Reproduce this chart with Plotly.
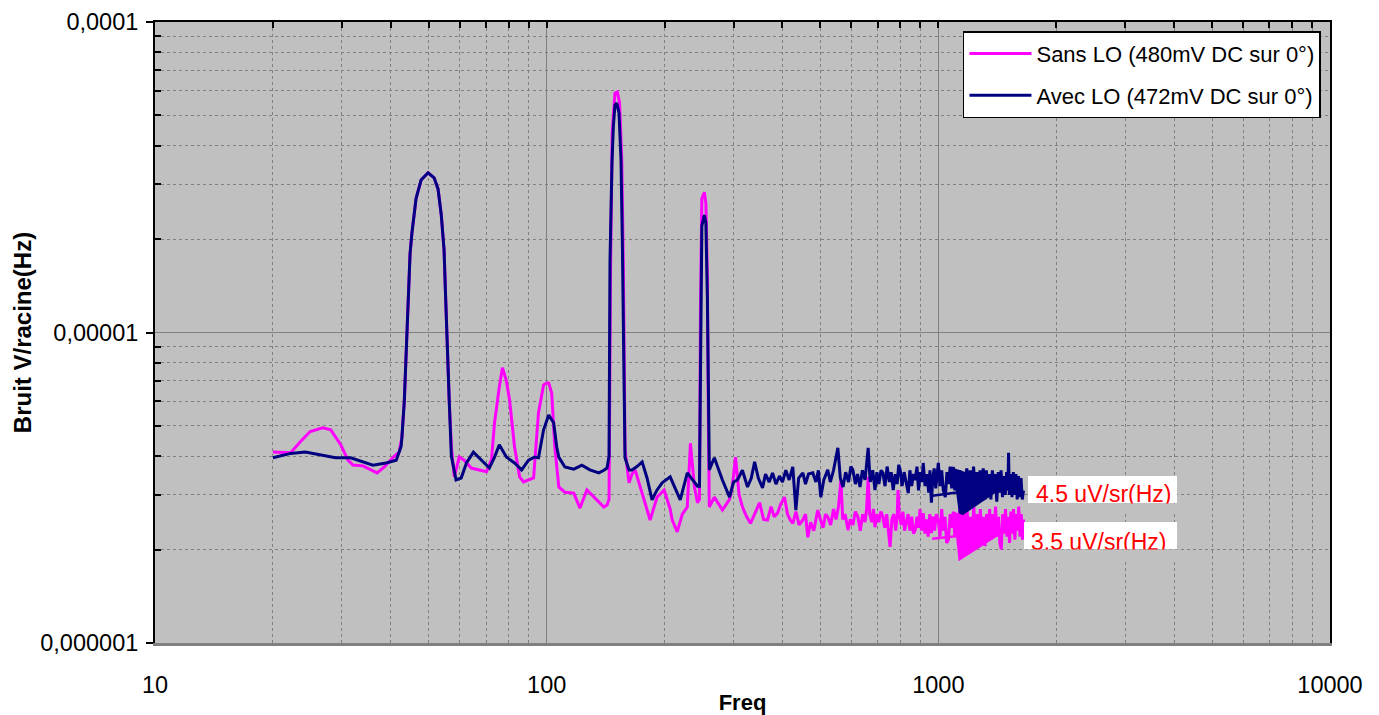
import plotly.graph_objects as go

# ---------------- data ----------------
freq_sans = [
    20.0, 22.2, 23.5, 24.9, 26.8, 28.1, 29.8, 31.1, 32.0, 34.0, 35.6, 36.9, 38.5, 40.6,
    42.0, 42.7, 43.3, 43.8, 44.3, 44.8, 45.3, 45.9, 46.4, 47.8, 49.8, 51.6, 52.8, 53.8,
    54.7, 55.1, 55.7, 56.4, 57.1, 58.1, 59.8, 61.6, 64.2, 67.0, 70.2, 72.3, 73.6, 75.7,
    77.1, 78.9, 80.4, 82.8, 85.3, 87.3, 89.9, 92.6, 95.3, 98.2, 100.0, 101.2, 103.0,
    104.9, 107.4, 111.3, 117.3, 121.6, 126.7, 132.8, 140.0, 142.6, 144.3, 145.5, 147.0,
    149.4, 151.5, 153.5, 155.5, 157.0, 158.0, 158.5, 162.3, 165.2, 168.2, 175.3, 180.4,
    183.7, 191.4, 199.5, 206.7, 209.2, 215.4, 222.0, 228.6, 232.8, 238.4, 242.7, 245.5,
    247.0, 249.0, 252.7, 255.0, 257.2, 259.0, 260.2, 268.0, 281.0,
    293, 298, 303.5, 310, 316.2, 324, 331.5, 340, 349.7, 358, 366.4, 374, 381, 388.5,
    396, 404.7, 412, 418, 425, 433, 441, 450.9, 458, 464.3, 472, 481, 492, 500, 508,
    515, 522, 531, 540, 548, 556, 564, 570, 578, 588, 596, 605, 614, 623, 632, 641,
    650, 656, 662, 668, 676, 683, 689, 697, 705, 713, 722, 730, 738, 746, 753, 761,
    770, 778, 785, 789, 795, 804, 812, 820, 828, 837, 846, 855, 864, 873, 882, 890,
    898, 906, 915, 924, 933, 942, 951, 960, 969, 978, 988, 1000, 1010, 1020, 1030,
    1040, 1050, 1061, 1072, 1082, 1092, 1102, 1114, 1125, 1136, 1148, 1160, 1172,
    1184, 1196, 1208, 1220, 1232, 1244, 1256, 1268, 1280, 1292, 1304, 1316, 1328,
    1340, 1352, 1364, 1376, 1388, 1400, 1412, 1424, 1436, 1448, 1460, 1472, 1484,
    1496, 1508, 1520, 1532, 1544, 1556, 1568, 1580, 1592, 1604, 1616, 1628, 1640, 1650,
]
noise_sans = [
    4.12e-6, 4.10e-6, 4.45e-6, 4.80e-6, 4.93e-6, 4.86e-6, 4.35e-6, 3.88e-6, 3.74e-6, 3.72e-6,
    3.61e-6, 3.53e-6, 3.69e-6, 3.97e-6,
    4.12e-6, 4.6e-6, 6.0e-6, 9.0e-6, 1.3e-5, 1.8e-5, 2.1e-5, 2.4e-5, 2.7e-5, 3.1e-5, 3.27e-5,
    3.15e-5, 2.9e-5, 2.4e-5,
    1.85e-5, 1.4e-5, 9.0e-6, 6.0e-6, 4.3e-6, 3.43e-6, 3.97e-6, 3.88e-6, 3.66e-6, 3.61e-6,
    3.56e-6, 3.9e-6, 5.12e-6, 6.68e-6,
    7.7e-6, 7.0e-6, 6.06e-6, 4.28e-6, 3.43e-6, 3.30e-6, 3.35e-6, 3.40e-6, 5.51e-6, 6.78e-6,
    6.88e-6, 6.88e-6, 6.38e-6,
    4.28e-6, 3.18e-6, 3.06e-6, 3.04e-6, 2.72e-6, 3.11e-6, 2.93e-6, 2.74e-6, 2.78e-6, 2.9e-6,
    1.5e-5, 4.4e-5,
    5.9e-5, 5.95e-5, 5.5e-5, 3.6e-5, 1.6e-5, 7.0e-6, 4.19e-6, 3.28e-6, 3.5e-6, 3.61e-6,
    3.04e-6, 2.7e-6,
    2.49e-6, 2.95e-6, 3.11e-6, 2.7e-6, 2.49e-6, 2.28e-6, 2.6e-6, 2.74e-6, 4.4e-6, 3.18e-6,
    2.83e-6, 2.9e-6,
    1.2e-5, 2.7e-5, 2.83e-5, 2.6e-5, 1.5e-5, 4.5e-6, 2.74e-6, 2.95e-6, 2.68e-6,
    2.9e-6, 3.2e-6, 3.97e-6, 3.0e-6, 2.74e-6, 2.55e-6, 2.43e-6, 2.6e-6, 2.83e-6, 2.5e-6,
    2.49e-6, 2.75e-6, 2.55e-6, 2.62e-6,
    2.8e-6, 2.95e-6, 2.6e-6, 2.5e-6, 2.43e-6, 2.65e-6, 2.4e-6, 2.49e-6, 2.6e-6, 2.19e-6,
    2.45e-6, 2.3e-6, 2.68e-6, 2.5e-6, 2.35e-6,
    2.6e-6, 2.55e-6, 2.4e-6, 2.7e-6, 2.5e-6, 2.75e-6, 3.35e-6, 2.5e-6, 2.6e-6, 2.31e-6,
    2.5e-6, 2.4e-6, 2.65e-6, 2.55e-6, 2.3e-6, 2.6e-6,
    2.45e-6, 2.7e-6, 3.43e-6, 2.6e-6, 2.45e-6, 2.7e-6, 2.36e-6, 2.6e-6, 2.45e-6, 2.65e-6,
    2.55e-6, 2.35e-6, 2.6e-6, 2.3e-6, 2.04e-6, 2.5e-6,
    2.6e-6, 2.3e-6, 2.55e-6, 3.11e-6, 2.6e-6, 2.4e-6, 2.65e-6, 2.3e-6, 2.43e-6, 2.6e-6,
    2.3e-6, 2.55e-6, 2.25e-6, 2.31e-6, 2.55e-6, 2.35e-6,
    2.7e-6, 2.3e-6, 2.62e-6, 2.25e-6, 2.5e-6, 2.2e-6, 2.6e-6, 2.26e-6, 2.55e-6, 2.3e-6,
    2.6e-6, 2.49e-6, 2.2e-6, 2.7e-6, 2.3e-6,
    2.55e-6, 2.1e-6, 2.15e-6, 2.6e-6, 2.35e-6, 2.65e-6, 2.2e-6, 2.5e-6, 2.43e-6, 2.75e-6,
    2.2e-6, 2.6e-6, 2.25e-6,
    2.7e-6, 2.15e-6, 2.55e-6, 2.3e-6, 2.75e-6, 2.1e-6, 2.6e-6, 2.25e-6, 2.7e-6, 2.2e-6,
    2.55e-6, 2.05e-6, 2.6e-6,
    2.3e-6, 2.7e-6, 2.15e-6, 2.6e-6, 2.25e-6, 2.75e-6, 2.2e-6, 2.55e-6, 2.1e-6, 2.0e-6,
    2.6e-6, 2.25e-6, 2.7e-6,
    2.2e-6, 2.55e-6, 2.1e-6, 2.65e-6, 2.25e-6, 2.7e-6, 2.15e-6, 2.6e-6, 2.3e-6, 2.75e-6,
    2.2e-6, 2.6e-6, 2.15e-6, 2.5e-6,
]

freq_avec = [
    20.0, 22.2, 24.2, 26.5, 28.9, 31.6, 34.0, 36.0, 38.9, 41.3, 42.5, 42.7, 43.3, 43.8,
    44.3, 44.8, 45.3, 45.9, 46.4, 47.8, 49.8, 51.6, 52.8, 53.8, 54.7, 55.1, 55.7, 56.4,
    57.1, 58.7, 60.5, 62.4, 65.0, 68.1, 71.4, 73.6, 75.7, 78.9, 82.8, 86.3, 89.9, 93.1,
    95.3, 98.2, 101.2, 104.2, 106.1, 107.4, 111.3, 117.3, 123.0, 128.9, 135.9, 140.0,
    142.6, 144.3, 145.1, 146.8, 148.0, 149.4, 151.0, 153.0, 154.8, 156.0, 157.5, 158.5,
    162.3, 165.2, 170.0, 175.3, 180.4, 185.8, 191.0, 197.2, 206.7, 212.0, 219.3, 228.6,
    238.4, 242.7, 245.5, 247.0, 249.0, 252.7, 255.0, 257.2, 259.0, 260.2, 268.0, 281.0,
    293.0, 300, 307, 316, 325.7, 333, 339.6, 347, 355.8, 362, 370, 377.3, 385, 393, 400,
    408, 416, 425, 432.7, 440, 450.9, 458, 466, 478, 487, 494, 501, 510, 522, 530, 540,
    554, 562, 571, 580, 590, 598, 605, 614, 622, 631, 640, 650, 662, 670, 680, 689,
    697, 705, 714, 722, 731, 740, 750, 758, 767, 776, 785, 792, 799, 808, 818, 827,
    838, 846, 855, 864, 873, 882, 890, 900, 908, 915, 925, 935, 945, 952, 960, 968,
    976, 985, 993, 1000, 1010, 1020, 1030, 1042, 1052, 1062, 1072, 1082, 1092, 1102,
    1112, 1122, 1134, 1146, 1158, 1170, 1182, 1194, 1206, 1218, 1230, 1242, 1254,
    1266, 1278, 1290, 1302, 1314, 1326, 1338, 1350, 1362, 1374, 1386, 1398, 1410,
    1422, 1434, 1446, 1458, 1470, 1482, 1494, 1505, 1511, 1518, 1530, 1542, 1554,
    1566, 1578, 1590, 1602, 1614, 1626, 1638, 1650,
]
noise_avec = [
    3.95e-6, 4.08e-6, 4.12e-6, 4.03e-6, 3.95e-6, 3.95e-6, 3.83e-6, 3.74e-6, 3.80e-6, 3.88e-6,
    4.3e-6, 4.6e-6, 6.0e-6, 9.0e-6,
    1.3e-5, 1.8e-5, 2.1e-5, 2.4e-5, 2.7e-5, 3.1e-5, 3.27e-5, 3.15e-5, 2.9e-5, 2.4e-5,
    1.85e-5, 1.4e-5, 9.0e-6, 6.0e-6,
    4.0e-6, 3.35e-6, 3.40e-6, 3.80e-6, 4.12e-6, 3.88e-6, 3.66e-6, 3.97e-6, 4.35e-6, 3.97e-6,
    3.80e-6, 3.61e-6, 3.88e-6, 3.97e-6,
    3.95e-6, 4.86e-6, 5.42e-6, 5.12e-6, 4.28e-6, 3.97e-6, 3.69e-6, 3.63e-6, 3.74e-6, 3.61e-6,
    3.53e-6, 3.6e-6,
    3.66e-6, 4.0e-6, 1.7e-5, 3.5e-5, 4.6e-5, 5.4e-5, 5.48e-5, 5.1e-5, 3.6e-5, 2.0e-5,
    8.0e-6, 3.95e-6,
    3.61e-6, 3.61e-6, 3.7e-6, 3.83e-6, 3.4e-6, 2.89e-6, 3.1e-6, 3.28e-6, 3.43e-6, 3.2e-6,
    2.89e-6, 3.53e-6,
    3.30e-6, 3.2e-6, 3.2e-6, 1.0e-5, 2.2e-5, 2.39e-5, 2.25e-5, 1.3e-5, 5.0e-6, 3.61e-6,
    3.95e-6, 3.35e-6,
    2.95e-6, 3.3e-6, 3.35e-6, 3.6e-6, 3.18e-6, 3.4e-6, 3.83e-6, 3.4e-6, 3.16e-6, 3.5e-6,
    3.3e-6, 3.53e-6, 3.25e-6, 3.45e-6, 3.30e-6,
    3.6e-6, 3.35e-6, 3.69e-6, 2.68e-6, 3.4e-6, 3.53e-6, 3.25e-6, 3.5e-6, 3.53e-6, 3.3e-6,
    3.6e-6, 2.95e-6, 3.35e-6, 3.61e-6, 3.3e-6, 3.6e-6,
    4.25e-6, 3.4e-6, 3.18e-6, 3.55e-6, 3.3e-6, 3.7e-6, 3.61e-6, 3.25e-6, 3.5e-6, 3.18e-6,
    3.6e-6, 3.35e-6, 4.25e-6, 3.3e-6, 3.6e-6, 3.11e-6,
    3.55e-6, 3.25e-6, 3.6e-6, 3.53e-6, 3.2e-6, 3.7e-6, 3.3e-6, 3.55e-6, 3.11e-6, 3.5e-6,
    3.25e-6, 3.75e-6, 3.61e-6, 3.2e-6, 3.55e-6, 3.3e-6,
    3.04e-6, 3.6e-6, 3.2e-6, 3.5e-6, 3.35e-6, 3.7e-6, 3.1e-6, 3.55e-6, 3.3e-6, 3.80e-6,
    3.2e-6, 3.5e-6, 3.05e-6, 3.6e-6, 2.83e-6, 3.4e-6,
    3.65e-6, 3.15e-6, 3.55e-6, 3.80e-6, 3.2e-6, 3.6e-6, 3.1e-6, 2.95e-6, 3.55e-6, 3.25e-6,
    3.7e-6, 3.15e-6, 3.69e-6, 3.1e-6,
    3.55e-6, 3.2e-6, 3.6e-6, 2.95e-6, 3.45e-6, 3.1e-6, 3.65e-6, 3.16e-6, 3.6e-6, 3.0e-6,
    3.7e-6, 3.1e-6, 3.55e-6,
    2.95e-6, 3.6e-6, 3.05e-6, 3.65e-6, 2.9e-6, 3.6e-6, 3.05e-6, 3.5e-6, 2.9e-6, 3.6e-6,
    3.1e-6, 3.5e-6, 2.85e-6,
    3.55e-6, 3.05e-6, 3.6e-6, 2.95e-6, 3.45e-6, 3.0e-6, 3.55e-6, 3.1e-6, 4.1e-6, 3.0e-6,
    3.5e-6, 2.95e-6, 3.55e-6,
    3.0e-6, 3.5e-6, 2.9e-6, 3.45e-6, 2.95e-6, 3.4e-6, 2.9e-6, 3.1e-6,
]

name_sans = "Sans LO (480mV DC sur 0°)"
name_avec = "Avec LO (472mV DC sur 0°)"
label_avec = "4.5 uV/sr(Hz)"
label_sans = "3.5 uV/sr(Hz)"

x_ticks = [10, 100, 1000, 10000]
x_ticktext = ["10", "100", "1000", "10000"]
y_ticks = [1e-6, 1e-5, 1e-4]
y_ticktext = ["0,000001", "0,00001", "0,0001"]

# ---------------- style ----------------
FONT = "Liberation Sans, Arial, sans-serif"
GRID = "#808080"
x_minor = [m * 10 ** e for e in (1, 2, 3) for m in range(2, 10)]
y_minor = [m * 10.0 ** e for e in (-6, -5) for m in range(2, 10)]

fig = go.Figure()
fig.add_trace(go.Scatter(x=freq_sans, y=noise_sans, mode="lines", name=name_sans,
                         line=dict(color="#FF00FF", width=3), legendgroup="a"))
fig.add_trace(go.Scatter(x=freq_avec, y=noise_avec, mode="lines", name=name_avec,
                         line=dict(color="#000080", width=3), legendgroup="b"))
# helper trace for the top (mirror) axis
fig.add_trace(go.Scatter(x=[x_ticks[0], x_ticks[-1]], y=[y_ticks[0], y_ticks[0]], xaxis="x2",
                         mode="lines", line=dict(width=0), showlegend=False,
                         hoverinfo="skip"))

fig.update_layout(
    width=1371, height=707, autosize=False,
    margin=dict(l=147, r=49, t=14, b=72),
    paper_bgcolor="white", plot_bgcolor="#C0C0C0",
    font=dict(family=FONT, size=22, color="black"),
    showlegend=True,
    legend=dict(x=0.9923, y=0.985, xanchor="right", yanchor="top",
                bgcolor="white", bordercolor="black", borderwidth=1.5,
                font=dict(size=22), tracegroupgap=10, traceorder="grouped",
                itemwidth=62),
    xaxis=dict(type="log", range=[1, 4], tickvals=x_ticks, ticktext=x_ticktext,
               showgrid=True, gridcolor=GRID, gridwidth=1,
               minor=dict(tickvals=x_minor, showgrid=True, gridcolor=GRID,
                          griddash="dot", gridwidth=1, ticks=""),
               ticks="", showline=True, linecolor="#808080", linewidth=3,
               ticklabelstandoff=19, tickfont=dict(size=23.5),
               title=dict(text="<b>Freq</b>", font=dict(size=22), standoff=2),
               automargin=False, zeroline=False),
    xaxis2=dict(type="log", range=[1, 4], overlaying="x", side="top", anchor="y",
                tickvals=x_ticks, showticklabels=False, showgrid=False,
                ticks="inside", ticklen=6, tickcolor="black", tickwidth=1.5,
                minor=dict(tickvals=x_minor, ticks="inside", ticklen=6,
                           tickcolor="black", tickwidth=1.5, showgrid=False),
                showline=True, linecolor="black", linewidth=2, automargin=False),
    yaxis=dict(type="log", range=[-6, -4], tickvals=y_ticks, ticktext=y_ticktext,
               showgrid=True, gridcolor=GRID, gridwidth=1,
               minor=dict(tickvals=y_minor, showgrid=True, gridcolor=GRID,
                          griddash="dot", gridwidth=1, ticks="inside", ticklen=6,
                          tickcolor="black", tickwidth=2),
               ticks="outside", ticklen=7, tickcolor="black", tickwidth=2,
               showline=True, linecolor="black", linewidth=2, mirror=True,
               ticklabelstandoff=3, tickfont=dict(size=23.5),
               title=dict(text="<b>Bruit V/racine(Hz)</b>", font=dict(size=24), standoff=2),
               automargin=False, zeroline=False),
)

# white label boxes
fig.add_shape(type="rect", xref="paper", yref="paper", x0=0.743, x1=0.8698,
              y0=0.2254, y1=0.2689, fillcolor="white", line=dict(width=0), layer="above")
fig.add_shape(type="rect", xref="paper", yref="paper", x0=0.7396, x1=0.8698,
              y0=0.1514, y1=0.1948, fillcolor="white", line=dict(width=0), layer="above")

# arrows
fig.add_annotation(xref="paper", yref="paper", x=0.724, y=0.2528, ax=-75, ay=10,
                   showarrow=True, arrowhead=2, arrowsize=4, arrowwidth=2.5,
                   arrowcolor="#000080", text="")
fig.add_annotation(xref="paper", yref="paper", x=0.724, y=0.1804, ax=-75, ay=8,
                   showarrow=True, arrowhead=2, arrowsize=4, arrowwidth=2.5,
                   arrowcolor="#FF00FF", text="")

# red labels (clipped at the bottom of their boxes)
fig.add_annotation(xref="paper", yref="paper", x=(1034 - 155) / 1175, y=0.2400,
                   xanchor="left", yanchor="middle", showarrow=False, text=label_avec,
                   font=dict(size=23, color="#FF0000"))
fig.add_annotation(xref="paper", yref="paper", x=(1029 - 155) / 1175, y=0.1626,
                   xanchor="left", yanchor="middle", showarrow=False, text=label_sans,
                   font=dict(size=23, color="#FF0000"))
# covers that hide the lower part of the labels below the boxes
fig.add_annotation(xref="paper", yref="paper", x=0.743, y=0.2254, xanchor="left",
                   yanchor="top", showarrow=False, text=" ", bgcolor="#C0C0C0",
                   width=149, height=9, borderpad=0, font=dict(size=6))
fig.add_annotation(xref="paper", yref="paper", x=0.7396, y=0.1514, xanchor="left",
                   yanchor="top", showarrow=False, text=" ", bgcolor="#C0C0C0",
                   width=153, height=9, borderpad=0, font=dict(size=6))

fig.write_html("out.html")
